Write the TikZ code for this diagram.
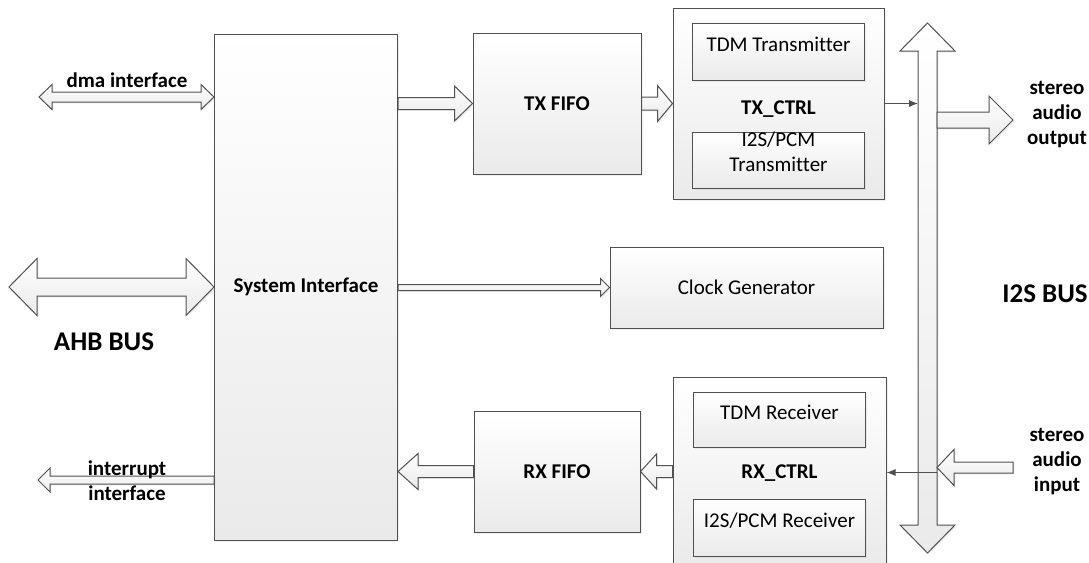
\documentclass[tikz,border=0pt]{standalone}
\usepackage{fontspec}
\setmainfont{Carlito}[Ligatures=NoCommon]
\usetikzlibrary{arrows.meta,positioning,calc,shadows}
\definecolor{edge}{RGB}{80,80,80}
\definecolor{shade}{RGB}{234,234,234}
\tikzset{
  box/.style={draw=edge,line width=1pt,top color=white,bottom color=shade,inner sep=0pt,
    font=\fontsize{21}{25}\selectfont,align=center,
    drop shadow={opacity=0.12,shadow xshift=1.5pt,shadow yshift=-1.5pt}},
  bold/.style={font=\fontsize{21}{25}\selectfont\bfseries},
  sub/.style={box,minimum width=172pt},
  txt/.style={font=\fontsize{21}{25}\selectfont,align=center},
  blk/.style={draw=edge,line width=1pt,top color=white,bottom color=shade,line join=miter,
    drop shadow={opacity=0.12,shadow xshift=1.5pt,shadow yshift=-1.5pt}},
  thin/.style={-{Latex[length=9pt,width=7pt]},draw=edge,line width=1pt},
  lbl/.style={font=\fontsize{21}{25}\selectfont\bfseries,align=center},
  big/.style={font=\fontsize{27}{32}\selectfont\bfseries},
}
% block arrow: tail, tip, shaft half width, head half width, head length
\newcommand{\barr}[6][]{%
  \coordinate (ba) at ($(#3)!#6pt!(#2)$);
  \draw[blk,#1] ($(#2)!#4pt!90:(#3)$) -- ($(ba)!#4pt!90:(#3)$) -- ($(ba)!#5pt!90:(#3)$)
    -- (#3) -- ($(ba)!#5pt!-90:(#3)$) -- ($(ba)!#4pt!-90:(#3)$) -- ($(#2)!#4pt!-90:(#3)$) -- cycle;}
% double block arrow, same arguments
\newcommand{\dbarr}[6][]{%
  \coordinate (ba) at ($(#3)!#6pt!(#2)$);
  \coordinate (bb) at ($(#2)!#6pt!(#3)$);
  \draw[blk,#1] (#2) -- ($(bb)!#5pt!90:(#3)$) -- ($(bb)!#4pt!90:(#3)$) -- ($(ba)!#4pt!90:(#3)$)
    -- ($(ba)!#5pt!90:(#3)$) -- (#3) -- ($(ba)!#5pt!-90:(#3)$) -- ($(ba)!#4pt!-90:(#3)$)
    -- ($(bb)!#4pt!-90:(#3)$) -- ($(bb)!#5pt!-90:(#3)$) -- cycle;}

\begin{document}
\begin{tikzpicture}[x=1pt,y=-1pt]
  \useasboundingbox (0,0) rectangle (1089,562);
  \clip (0,0) rectangle (1089,562);
  % main blocks
  \node[box,bold,minimum width=183pt,minimum height=506pt] (sys) at (306,287) {System Interface};
  \node[box,bold,minimum width=168pt,minimum height=141pt] (txf) at (557,103.5) {TX FIFO};
  \node[box,bold,minimum width=166pt,minimum height=121pt] (rxf) at (557,471.5) {RX FIFO};
  \node[box,minimum width=273pt,minimum height=81pt] (clk) at (746.5,287.5) {Clock Generator};
  \node[box,minimum width=211pt,minimum height=191pt] (txc) at (778.5,103.5) {};
  \node[box,minimum width=213pt,minimum height=191pt] (rxc) at (779.5,472.5) {};
  % inner blocks
  \node[sub,minimum height=57pt,below=15pt of txc.north,
    label={[txt,yshift=7pt]center:TDM Transmitter}] (tdmt) {};
  \node[sub,minimum height=56pt,above=11pt of txc.south,
    label={[txt,yshift=8pt]center:I2S/PCM\\Transmitter}] (pcmt) {};
  \node[sub,minimum height=55pt,below=15pt of rxc.north,
    label={[txt,yshift=7pt]center:TDM Receiver}] (tdmr) {};
  \node[sub,minimum height=57pt,above=12pt of rxc.south,
    label={[txt,yshift=7pt]center:I2S/PCM Receiver}] (pcmr) {};
  \node[lbl,yshift=-3pt] (txl) at ($(tdmt.south)!0.5!(pcmt.north)$) {TX\_CTRL};
  \node[lbl] (rxl) at ($(tdmr.south)!0.5!(pcmr.north)$) {RX\_CTRL};
  % free ends
  \coordinate (dma) at (39,97);
  \coordinate (ahb) at (9,287);
  \coordinate (irq) at (38,480);
  \coordinate (busT) at (927.5,23);
  \coordinate (busB) at (927.5,553);
  \coordinate (busW) at (918,0);
  \coordinate (busE) at (937,0);
  \coordinate (out) at (1013,120);
  \coordinate (in) at (1013,467.5);
  % wide arrows
  \dbarr{busT}{busB}{9.5}{27.5}{28}
  \dbarr{dma}{sys.west |- dma}{5}{12.5}{13}
  \dbarr{ahb}{sys.west}{9}{28.5}{28}
  \barr{sys.west |- irq}{irq}{4}{12}{12}
  \barr{sys.east |- txf.west}{txf.west}{6}{17.5}{18}
  \barr{txf.east}{txc.west}{6.5}{18}{15}
  \barr{sys.east |- clk.west}{clk.west}{3}{9}{9}
  \barr{rxc.west |- rxf.east}{rxf.east}{6}{17.5}{16}
  \barr{rxf.west}{sys.east |- rxf.west}{6}{18}{20}
  \barr{busE |- out}{out}{8}{24}{24}
  \barr{in}{busE |- in}{5.5}{18}{17}
  % thin arrows
  \draw[thin] (txc.east) -- (txc.east -| busW);
  \draw[thin] (rxc.east -| busE) -- (rxc.east);
  % labels
  \node[lbl] (dmal) at (127,80) {dma interface};
  \node[lbl,big] (ahbl) at (104,342) {AHB BUS};
  \node[lbl] (irql) at (127,480.5) {interrupt\\interface};
  \node[lbl] (outl) at (1057,115) {stereo\\audio\\output};
  \node[lbl] (inl) at (1057,462) {stereo\\audio\\input};
  \node[lbl,big] (busl) at (1045,294) {I2S BUS};
\end{tikzpicture}
\end{document}
